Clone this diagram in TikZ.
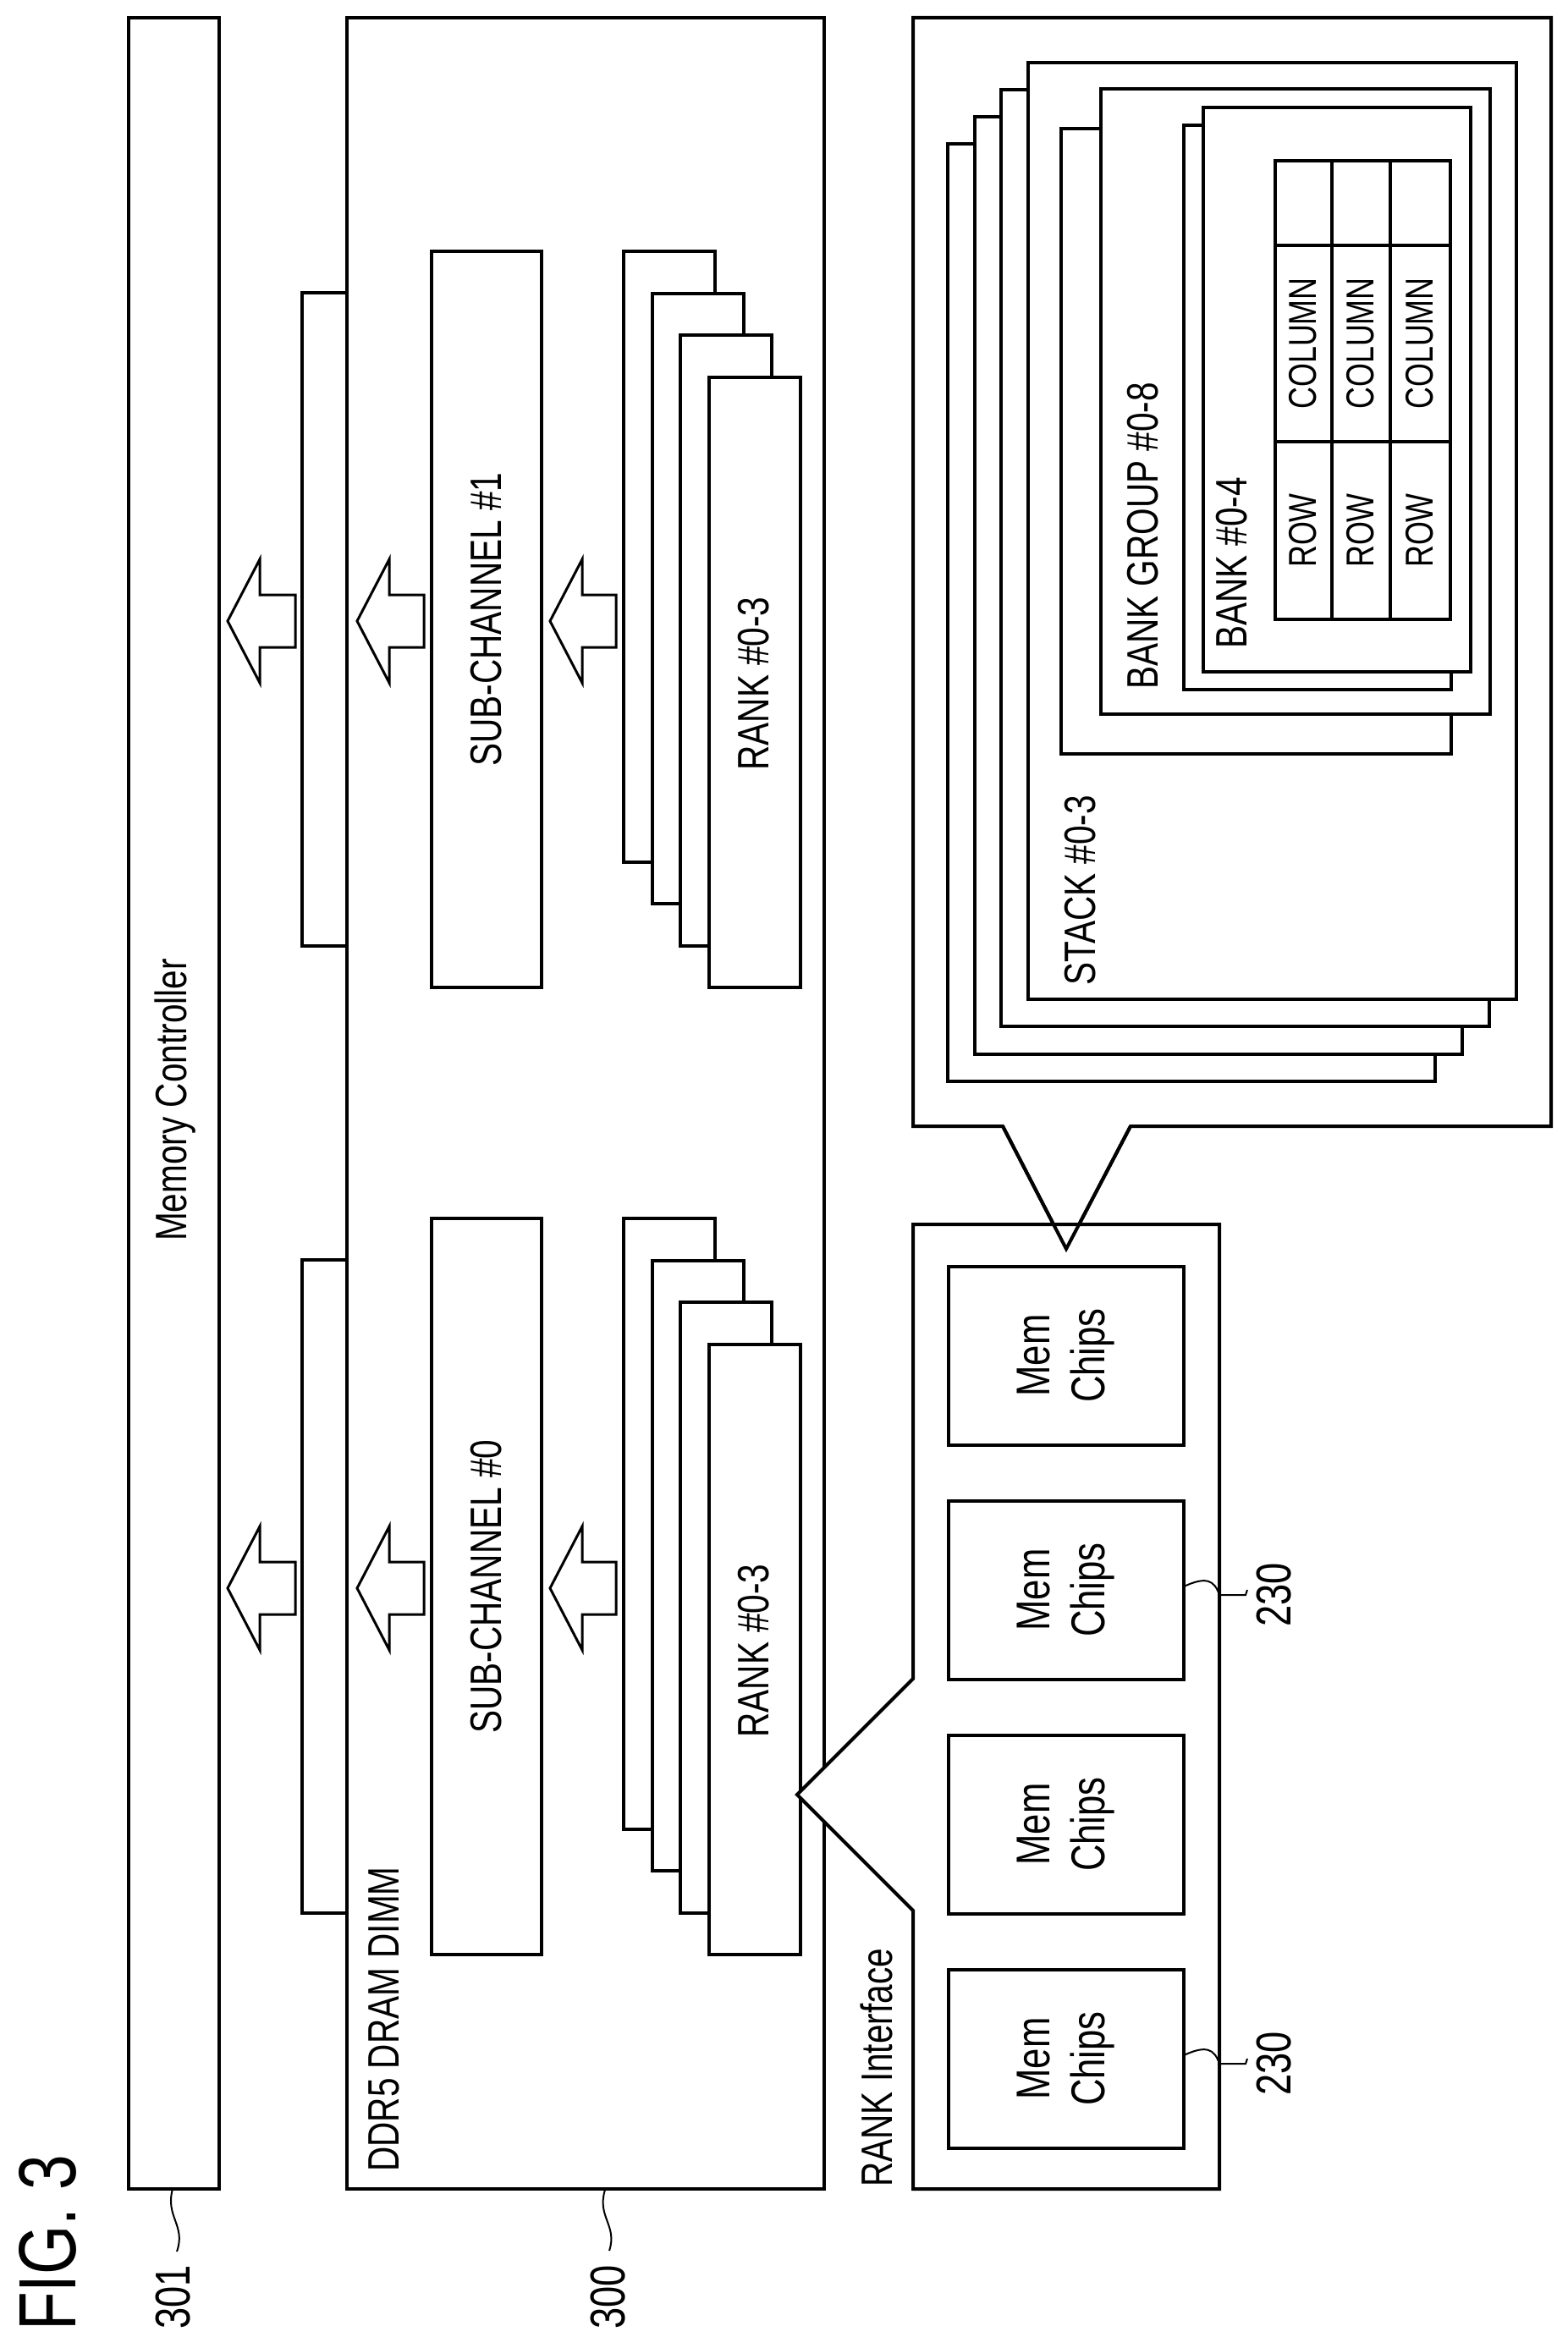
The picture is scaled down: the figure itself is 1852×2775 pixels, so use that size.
\documentclass[tikz,border=0pt]{standalone}
\usepackage{fontspec}
\setmainfont{Liberation Sans}[FakeStretch=0.78]
\begin{document}
\begin{tikzpicture}[x=1pt,y=-1pt,
  bx/.style={draw,line width=4pt,fill=white},
  thin/.style={line width=2pt},
  lbl/.style={rotate=90,inner sep=0pt,font=\fontsize{52}{60}\selectfont},
  small/.style={rotate=90,inner sep=0pt,font=\fontsize{46}{52}\selectfont},
  num/.style={rotate=90,inner sep=0pt,font=\fontsize{58}{64}\selectfont},
  harrow/.style={draw,line width=3pt,line join=miter,fill=white}]
\useasboundingbox (0,0) rectangle (1852,2775);
% FIG label
\node[rotate=90,inner sep=0pt,anchor=west,font=\fontsize{96}{100}\selectfont] (fig) at (56,2755) {FIG. 3};
% Memory controller
\node[bx,minimum width=0pt,anchor=north west,inner sep=0pt] (mc) at (152,21) {};
\draw[bx] (152,21) rectangle (259,2587);
\node[lbl] (mclbl) at (207,1300) {Memory Controller};
\coordinate (mcb) at (204,2587);
\coordinate (l301) at (209,2661);
\draw[thin] (mcb) .. controls (195,2620) and (220,2630) .. (l301);
\node[num] (n301) at (205,2715) {301};
% DIMM
\draw[bx] (410,21) rectangle (974,2587);
\node[lbl,anchor=west] (dimmlbl) at (454,2567) {DDR5 DRAM DIMM};
\coordinate (dimmb) at (715,2588);
\coordinate (l300) at (720,2660);
\draw[thin] (dimmb) .. controls (705,2620) and (730,2630) .. (l300);
\node[num] (n300) at (719,2715) {300};
% two sub-channel columns
\foreach \d/\s in {0/1,1143/0}{
  \begin{scope}[yshift=-\d pt]
  \draw[bx] (357,346) rectangle (410,1118);
  \draw[bx] (510,297) rectangle (640,1167);
  \node[lbl] at (575,732) {SUB-CHANNEL \#\s};
  \foreach \k in {0,1,2,3}{
    \draw[bx] (737+33.7*\k,297+49.7*\k) rectangle (845+33.7*\k,1019+49.3*\k);
  }
  \node[lbl] at (891,808) {RANK \#0-3};
  \foreach \t/\b/\e in {269/307/349,422/460/501,650/688/728}{
    \draw[harrow] (\t,734) -- (\b,661) -- (\b,703) -- (\e,703) -- (\e,765) -- (\b,765) -- (\b,807) -- cycle;
  }
  \end{scope}
}
% top callout
\draw[bx] (1079,21) -- (1833,21) -- (1833,1331) -- (1336,1331) -- (1260,1476) -- (1185,1331) -- (1079,1331) -- cycle;
\foreach \k in {0,1,2,3}{
  \draw[bx] (1120+31.7*\k,170-32*\k) rectangle (1696+32*\k,1278-32.3*\k);
}
\node[lbl,anchor=west] (stack) at (1277,1165) {STACK \#0-3};
\draw[bx] (1254,152) rectangle (1715,891);
\draw[bx] (1301,105) rectangle (1761,844);
\node[lbl,anchor=west] (bg) at (1351,815) {BANK GROUP \#0-8};
\draw[bx] (1399,148) rectangle (1715,815);
\draw[bx] (1422,127) rectangle (1738,794);
\node[lbl,anchor=west] (bank) at (1456,767) {BANK \#0-4};
\draw[line width=4pt] (1507,190) rectangle (1714,732);
\draw[line width=4pt] (1574,190) -- (1574,732) (1643,190) -- (1643,732)
   (1507,290) -- (1714,290) (1507,522) -- (1714,522);
\foreach \x in {1540,1608,1678}{
  \node[small] at (\x,406) {COLUMN};
  \node[small] at (\x,627) {ROW};
}
% rank interface
\draw[bx] (1079,1447) -- (1441,1447) -- (1441,2587) -- (1079,2587) -- (1079,2258) -- (942,2121) -- (1079,1984) -- cycle;
\draw[line width=4pt] (1185,1331) -- (1260,1476) -- (1336,1331);
\node[lbl,anchor=west] (ri) at (1036,2585) {RANK Interface};
\foreach \k in {0,1,2,3}{
  \draw[bx] (1121,1497+277*\k) rectangle (1399,1708+277*\k);
  \node[rotate=90,align=center,inner sep=0pt,font=\fontsize{56}{65}\selectfont] at (1260,1602+277*\k) {Mem\\Chips};
}
\foreach \y in {2429,1875}{
  \draw[thin] (1399,\y) .. controls (1425,\y-12) and (1435,\y-8) .. (1441,\y+10) -- (1472,\y+10) -- (1474,\y+4);
  \node[num] at (1506,\y+10) {230};
}
\end{tikzpicture}
\end{document}
